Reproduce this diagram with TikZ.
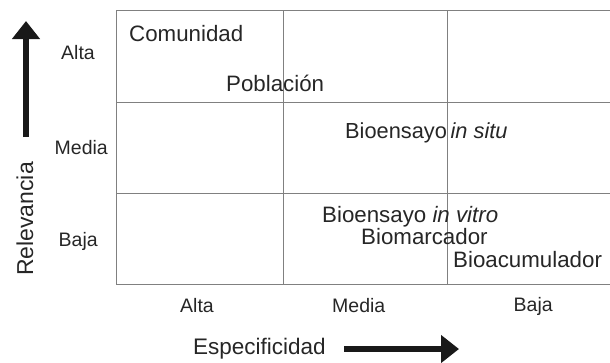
\documentclass[tikz,border=0pt]{standalone}
\usepackage{fontspec}
\setmainfont{Liberation Sans}
\usetikzlibrary{arrows.meta}
\tikzset{
  x=1pt, y=-1pt,
  gridline/.style={draw=black!50, line width=0.8pt},
  item/.style={anchor=base west, inner sep=0pt, font=\fontsize{22.3}{26}\selectfont, text=black!85},
  lbl/.style={anchor=base west, inner sep=0pt, font=\fontsize{19.5}{23}\selectfont, text=black!85},
  bigarrow/.style={line width=6pt, draw=black!90, -{Triangle[width=27pt,length=18pt]}}
}
\begin{document}
\begin{tikzpicture}
\useasboundingbox (0,0) rectangle (610,362);
% grid
\draw[gridline] (116,10) -- (610,10);
\draw[gridline] (116,102) -- (610,102);
\draw[gridline] (116,193) -- (610,193);
\draw[gridline] (116,284) -- (610,284);
\draw[gridline] (116,10) -- (116,284);
\draw[gridline] (283,10) -- (283,284);
\draw[gridline] (447,10) -- (447,284);
% items
\node[item] (com) at (129,41) {Comunidad};
\node[item] (pob) at (226,91) {Población};
\node[item, font=\fontsize{21.8}{26}\selectfont] (situ) at (345,138) {Bioensayo\,\textit{in situ}};
\node[item] (vitro) at (322,222) {Bioensayo \textit{in vitro}};
\node[item] (marc) at (361,244.5) {Biomarcador};
\node[item] (acum) at (453,267) {Bioacumulador};
% row labels
\node[lbl] (ra) at (61,59.5) {Alta};
\node[lbl] (rm) at (54.5,154) {Media};
\node[lbl] (rb) at (58.5,246) {Baja};
% column labels
\node[lbl] (ca) at (180,312.5) {Alta};
\node[lbl] (cm) at (332,312.5) {Media};
\node[lbl] (cb) at (513.5,311) {Baja};
% axis titles
\node[lbl, font=\fontsize{23}{27}\selectfont, rotate=90, anchor=base] (rel) at (33,219) {Relevancia};
\node[lbl, font=\fontsize{22.5}{27}\selectfont] (esp) at (193,354) {Especificidad};
% arrows
\coordinate (up0) at (26,137);
\coordinate (up1) at (26,21);
\coordinate (rt0) at (344,349);
\coordinate (rt1) at (459,349);
\draw[bigarrow] (up0) -- (up1);
\draw[bigarrow] (rt0) -- (rt1);
\end{tikzpicture}
\end{document}
